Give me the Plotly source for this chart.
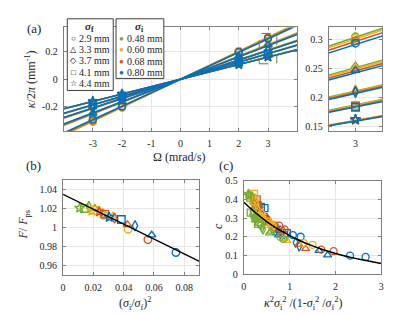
import plotly.graph_objects as go

W, H = 415, 315
FONT = "Liberation Serif, Times New Roman, DejaVu Serif, serif"
AXC = "#808080"
TXT = "#262626"

# ---------------- data ----------------
SIGMA_F = ["2.9 mm", "3.3 mm", "3.7 mm", "4.1 mm", "4.4 mm"]
SIGMA_I = ["0.48 mm", "0.60 mm", "0.68 mm", "0.80 mm"]
SYMBOLS = ["circle-open", "triangle-up-open", "diamond-tall-open", "square-open", "star-open"]
LEGEND_GLYPHS = ["○", "△", "◇", "□", "☆"]
COLORS = ["#77AC30", "#EDB120", "#D95319", "#0072BD"]

# panel (a): kappa/2pi (mm^-1) vs Omega (mrad/s); rows = sigma_f
OMEGA = [-3, -2, 2, 3]
kappa_048 = [[-0.306, -0.205, 0.204, 0.305],
             [-0.253, -0.167, 0.169, 0.255],
             [-0.212, -0.141, 0.142, 0.213],
             [-0.188, -0.125, 0.126, 0.187],
             [-0.162, -0.108, 0.108, 0.163]]
kappa_060 = [[-0.303, -0.202, 0.201, 0.302],
             [-0.250, -0.166, 0.167, 0.251],
             [-0.211, -0.140, 0.141, 0.212],
             [-0.187, -0.124, 0.125, 0.186],
             [-0.161, -0.107, 0.108, 0.162]]
kappa_068 = [[-0.298, -0.199, 0.198, 0.298],
             [-0.247, -0.164, 0.165, 0.248],
             [-0.209, -0.139, 0.140, 0.211],
             [-0.185, -0.123, 0.124, 0.185],
             [-0.160, -0.107, 0.107, 0.162]]
kappa_080 = [[-0.290, -0.196, 0.196, 0.294],
             [-0.243, -0.162, 0.163, 0.247],
             [-0.208, -0.138, 0.139, 0.210],
             [-0.184, -0.123, 0.123, 0.184],
             [-0.159, -0.106, 0.107, 0.163]]
KAPPA = [kappa_048, kappa_060, kappa_068, kappa_080]

# linear fits through origin, evaluated at the ends of the axis
FIT_OMEGA = [-4, 4]
fit_048 = [[-0.4056, 0.4056], [-0.3360, 0.3360], [-0.2824, 0.2824], [-0.2504, 0.2504], [-0.2152, 0.2152]]
fit_060 = [[-0.4016, 0.4016], [-0.3328, 0.3328], [-0.2808, 0.2808], [-0.2488, 0.2488], [-0.2144, 0.2144]]
fit_068 = [[-0.3960, 0.3960], [-0.3288, 0.3288], [-0.2788, 0.2788], [-0.2472, 0.2472], [-0.2140, 0.2140]]
fit_080 = [[-0.3888, 0.3888], [-0.3240, 0.3240], [-0.2768, 0.2768], [-0.2456, 0.2456], [-0.2132, 0.2132]]
FITS = [fit_048, fit_060, fit_068, fit_080]

# panel (b): F/F_ps vs (sigma_i/sigma_f)^2 ; index = sigma_f
ratio_048 = [0.027, 0.021, 0.017, 0.014, 0.011]
F_048 = [1.013, 1.020, 1.022, 1.020, 1.0205]
ratio_060 = [0.043, 0.033, 0.026, 0.021, 0.019]
F_060 = [0.998, 1.012, 1.015, 1.018, 1.0175]
ratio_068 = [0.056, 0.0425, 0.034, 0.0275, 0.024]
F_068 = [0.987, 1.003, 1.010, 1.014, 1.0165]
ratio_080 = [0.0745, 0.0585, 0.0475, 0.0385, 0.0305]
F_080 = [0.9734, 0.992, 1.0017, 1.0084, 1.0108]
RATIO = [ratio_048, ratio_060, ratio_068, ratio_080]
FRATIO = [F_048, F_060, F_068, F_080]
FIT_B_X = [0.0, 0.09]
FIT_B_Y = [1.035, 0.964]

# panel (c): c vs kappa^2 sigma_i^2/(1-sigma_i^2/sigma_f^2); rows = sigma_f
c_x_048 = [[0.36, 0.38, 0.80, 0.86], [0.25, 0.27, 0.56, 0.59], [0.18, 0.19, 0.40, 0.42],
           [0.14, 0.15, 0.31, 0.33], [0.10, 0.11, 0.24, 0.25]]
c_y_048 = [[0.27, 0.26, 0.20, 0.19], [0.29, 0.30, 0.22, 0.23], [0.32, 0.34, 0.25, 0.24],
           [0.41, 0.33, 0.27, 0.28], [0.43, 0.42, 0.31, 0.30]]
c_x_060 = [[0.58, 0.61, 1.31, 1.50], [0.40, 0.42, 0.88, 0.94], [0.28, 0.30, 0.62, 0.66],
           [0.22, 0.23, 0.49, 0.52], [0.17, 0.18, 0.37, 0.39]]
c_y_060 = [[0.27, 0.26, 0.167, 0.158], [0.33, 0.30, 0.19, 0.18], [0.37, 0.35, 0.25, 0.26],
           [0.43, 0.39, 0.27, 0.28], [0.42, 0.40, 0.31, 0.30]]
c_x_068 = [[0.77, 0.89, 1.69, 1.96], [0.51, 0.54, 1.20, 1.35], [0.36, 0.38, 0.80, 0.86],
           [0.28, 0.30, 0.63, 0.67], [0.21, 0.23, 0.47, 0.50]]
c_y_068 = [[0.26, 0.24, 0.132, 0.124], [0.30, 0.28, 0.16, 0.137], [0.36, 0.33, 0.22, 0.23],
           [0.40, 0.37, 0.26, 0.25], [0.40, 0.37, 0.30, 0.28]]
c_x_080 = [[1.07, 1.24, 2.32, 2.66], [0.72, 0.76, 1.64, 1.83], [0.50, 0.53, 1.13, 1.21],
           [0.37, 0.45, 0.88, 0.94], [0.30, 0.32, 0.67, 0.71]]
c_y_080 = [[0.21, 0.201, 0.100, 0.093], [0.22, 0.21, 0.127, 0.103], [0.30, 0.29, 0.17, 0.15],
           [0.36, 0.354, 0.21, 0.22], [0.37, 0.35, 0.24, 0.25]]
CX = [c_x_048, c_x_060, c_x_068, c_x_080]
CY = [c_y_048, c_y_060, c_y_068, c_y_080]
# fitted model curve
FIT_C_X = [0, 0.25, 0.5, 0.75, 1.0, 1.25, 1.5, 1.75, 2.0, 2.25, 2.5, 2.75, 3.0]
FIT_C_Y = [0.385, 0.330, 0.282, 0.241, 0.207, 0.177, 0.152, 0.130, 0.111, 0.095, 0.082, 0.070, 0.058]

# ---------------- figure ----------------
fig = go.Figure()


def px(x):
    return x / W


def py(y):
    return 1 - y / H


# panel (a) main + inset
for ci in range(4):
    for fi in range(5):
        for xa, ya, ms in (("x", "y", 7), ("x2", "y2", 7.5)):
            fig.add_trace(go.Scatter(
                x=OMEGA, y=KAPPA[ci][fi], mode="markers", xaxis=xa, yaxis=ya,
                marker=dict(symbol=SYMBOLS[fi], size=ms, color=COLORS[ci],
                            line=dict(width=1.4, color=COLORS[ci])),
                showlegend=False, hoverinfo="skip"))
            fig.add_trace(go.Scatter(
                x=FIT_OMEGA, y=FITS[ci][fi], mode="lines", xaxis=xa, yaxis=ya,
                line=dict(color=COLORS[ci], width=1.5),
                showlegend=False, hoverinfo="skip"))

# panel (b)
for ci in range(4):
    for fi in range(5):
        fig.add_trace(go.Scatter(
            x=[RATIO[ci][fi]], y=[FRATIO[ci][fi]], mode="markers", xaxis="x3", yaxis="y3",
            marker=dict(symbol=SYMBOLS[fi], size=7.5, color=COLORS[ci],
                        line=dict(width=1.4, color=COLORS[ci])),
            showlegend=False, hoverinfo="skip"))
fig.add_trace(go.Scatter(x=FIT_B_X, y=FIT_B_Y, mode="lines", xaxis="x3", yaxis="y3",
                         line=dict(color="black", width=1.5), showlegend=False, hoverinfo="skip"))

# panel (c)
for ci in [3, 2, 1, 0]:
    for fi in range(5):
        fig.add_trace(go.Scatter(
            x=CX[ci][fi], y=CY[ci][fi], mode="markers", xaxis="x4", yaxis="y4",
            marker=dict(symbol=SYMBOLS[fi], size=7, color=COLORS[ci],
                        line=dict(width=1.3, color=COLORS[ci])),
            showlegend=False, hoverinfo="skip"))
fig.add_trace(go.Scatter(x=FIT_C_X, y=FIT_C_Y, mode="lines", line_shape="spline",
                         xaxis="x4", yaxis="y4",
                         line=dict(color="black", width=1.5), showlegend=False, hoverinfo="skip"))

axis_common = dict(showline=True, mirror="ticks", linecolor=AXC, linewidth=1,
                   ticks="inside", ticklen=3, tickcolor=AXC, tickwidth=1,
                   showgrid=True, gridcolor="#e6e6e6", gridwidth=1, zeroline=False,
                   tickfont=dict(family=FONT, size=10, color=TXT))

fig.update_layout(
    width=W, height=H, margin=dict(l=0, r=0, t=0, b=0),
    paper_bgcolor="white", plot_bgcolor="white", showlegend=False,
    font=dict(family=FONT, size=10, color=TXT),
    xaxis=dict(domain=[px(54.3), px(290.7)], range=[-4, 4], anchor="y",
               tickvals=[-3, -2, -1, 0, 1, 2, 3], ticktext=["-3", "-2", "-1", "0", "1", "2", "3"],
               ticklabelstandoff=3, **axis_common),
    yaxis=dict(domain=[py(121.7), py(14)], range=[-0.375, 0.375], anchor="x",
               tickvals=[-0.2, 0, 0.2], ticktext=["-0.2", "0", "0.2"],
               ticklabelstandoff=3, **axis_common),
    xaxis2=dict(domain=[px(322.7), px(376.7)], range=[2.85, 3.15], anchor="y2",
                tickvals=[3], ticktext=["3"], ticklabelstandoff=3, **axis_common),
    yaxis2=dict(domain=[py(121.7), py(14)], range=[0.143, 0.321], anchor="x2",
                tickvals=[0.15, 0.2, 0.25, 0.3], ticktext=["0.15", "0.2", "0.25", "0.3"],
                ticklabelstandoff=3, **axis_common),
    xaxis3=dict(domain=[px(53.7), px(191.7)], range=[0, 0.09], anchor="y3",
                tickvals=[0, 0.02, 0.04, 0.06, 0.08], ticktext=["0", "0.02", "0.04", "0.06", "0.08"],
                ticklabelstandoff=3, **axis_common),
    yaxis3=dict(domain=[py(271), py(172.7)], range=[0.95, 1.05], anchor="x3",
                tickvals=[0.96, 0.98, 1.0, 1.02, 1.04], ticktext=["0.96", "0.98", "1", "1.02", "1.04"],
                ticklabelstandoff=3, **axis_common),
    xaxis4=dict(domain=[px(236.7), px(375.7)], range=[0, 3], anchor="y4",
                tickvals=[0, 1, 2, 3], ticktext=["0", "1", "2", "3"],
                ticklabelstandoff=3, **axis_common),
    yaxis4=dict(domain=[py(270.7), py(173.3)], range=[0, 0.5], anchor="x4",
                tickvals=[0, 0.1, 0.2, 0.3, 0.4, 0.5], ticktext=["0", "0.1", "0.2", "0.3", "0.4", "0.5"],
                ticklabelstandoff=3, **axis_common),
)

# dashed zoom box in (a)
shapes = [dict(type="rect", xref="x", yref="y", x0=2.7, x1=3.3, y0=0.112, y1=0.331,
               line=dict(color="#707070", width=1, dash="dash"), layer="above")]
# legend boxes
shapes.append(dict(type="rect", xref="paper", yref="paper", x0=px(58), x1=px(104.5),
                   y0=py(79.5), y1=py(5), fillcolor="white", line=dict(color="#404040", width=1),
                   layer="above"))
shapes.append(dict(type="rect", xref="paper", yref="paper", x0=px(107.3), x1=px(155.7),
                   y0=py(67), y1=py(5), fillcolor="white", line=dict(color="#404040", width=1),
                   layer="above"))
fig.update_layout(shapes=shapes)

ann = []


def label(text, x, y, size=12, angle=0, xanchor="center", color=TXT):
    ann.append(dict(text=text, x=px(x), y=py(y), xref="paper", yref="paper",
                    showarrow=False, xanchor=xanchor, yanchor="middle", textangle=angle,
                    font=dict(family=FONT, size=size, color=color)))


label("(a)", 24, 15, size=13)
label("(b)", 24, 157, size=13)
label("(c)", 219, 157, size=13)
label("<i>κ</i>/2<i>π</i> (mm<sup>-1</sup>)", 21, 68, size=12, angle=-90)
label("Ω (mrad/s)", 172, 149, size=12)
label("<i>F</i>/ <i>F</i><sub>ps</sub>", 14, 219, size=12, angle=-90)
label("(<i>σ</i><sub>i</sub>/<i>σ</i><sub>f</sub>)<sup>2</sup>", 127, 301, size=12)
label("<i>c</i>", 210, 220, size=12, angle=-90)
label("<i>κ</i><sup>2</sup><i>σ</i><sub>i</sub><sup>2</sup> /(1-<i>σ</i><sub>i</sub><sup>2</sup> /<i>σ</i><sub>f</sub><sup>2</sup>)",
      297, 301, size=12)

# legend contents
label("<b><i>σ</i><sub>f</sub></b>", 80, 13, size=11)
label("<b><i>σ</i><sub>i</sub></b>", 131, 13, size=11)
for fi in range(5):
    yy = 25 + fi * 11.8
    label(LEGEND_GLYPHS[fi], 64, yy, size=8, color="black")
    label(SIGMA_F[fi], 67.5, yy, size=10, xanchor="left")
for ci in range(4):
    yy = 25 + ci * 12.1
    label("●", 112.5, yy, size=8, color=COLORS[ci])
    label(SIGMA_I[ci], 116.5, yy, size=10, xanchor="left")

fig.update_layout(annotations=ann)

fig.write_html("out.html")
